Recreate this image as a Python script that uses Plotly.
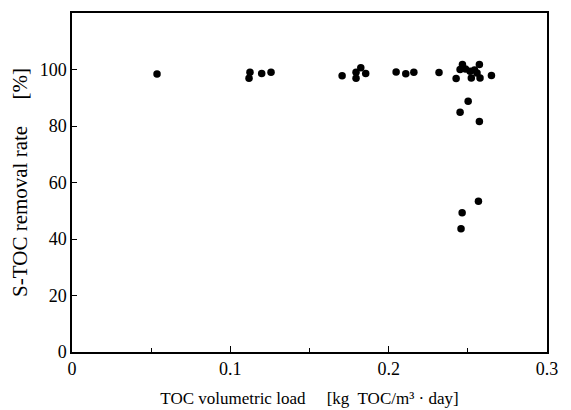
import plotly.graph_objects as go

# TOC volumetric load [kg TOC/m3·day]
toc_load = [0.0537, 0.1118, 0.1124, 0.1198, 0.1257,
            0.1706, 0.1794, 0.1794, 0.1824, 0.1855,
            0.2047, 0.2108, 0.2159, 0.2318,
            0.2426, 0.2466, 0.2451, 0.2485, 0.2514, 0.2542, 0.2573,
            0.2558, 0.2522, 0.2577, 0.2649,
            0.2502, 0.2451, 0.2573, 0.2567, 0.2464, 0.2457]
# S-TOC removal rate [%]
removal_rate = [98.4, 96.9, 99.0, 98.6, 99.0,
                97.8, 99.0, 96.9, 100.6, 98.6,
                99.1, 98.5, 99.0, 98.9,
                96.8, 101.8, 100.0, 100.2, 99.4, 99.8, 101.8,
                98.8, 97.0, 97.0, 97.9,
                88.8, 84.9, 81.6, 53.4, 49.3, 43.6]

x_ticks = [0, 0.1, 0.2, 0.3]
x_tick_labels = ["0", "0.1", "0.2", "0.3"]
y_ticks = [0, 20, 40, 60, 80, 100]

font_family = "Liberation Serif, Times New Roman, serif"

fig = go.Figure(go.Scatter(
    x=toc_load, y=removal_rate, mode="markers",
    marker=dict(color="black", size=7.5),
))

fig.update_layout(
    width=571, height=410,
    margin=dict(l=64, r=32, t=5, b=66),
    paper_bgcolor="white", plot_bgcolor="white",
    showlegend=False,
    font=dict(family=font_family, color="black", size=18),
)
fig.update_xaxes(
    range=[0, 0.3], tickvals=x_ticks, ticktext=x_tick_labels,
    ticks="inside", ticklen=6, tickwidth=1, tickcolor="black",
    minor=dict(tickvals=[0.05, 0.15, 0.25], ticks="inside", ticklen=4, tickcolor="black"),
    showline=True, linecolor="black", linewidth=1.5, mirror=True,
    showgrid=False, zeroline=False, automargin=False,
    tickfont=dict(size=18),
    title=dict(text="TOC volumetric load　 [kg  TOC/m³ · day]", font=dict(size=17), standoff=14),
)
fig.update_yaxes(
    range=[0, 120], tickvals=y_ticks,
    ticks="inside", ticklen=5, tickwidth=1, tickcolor="black",
    showline=True, linecolor="black", linewidth=1.5, mirror=True,
    showgrid=False, zeroline=False, automargin=False,
    tickfont=dict(size=18),
    title=dict(text="S-TOC removal rate　 [%]", font=dict(size=21), standoff=8),
)

fig.write_html("out.html")
